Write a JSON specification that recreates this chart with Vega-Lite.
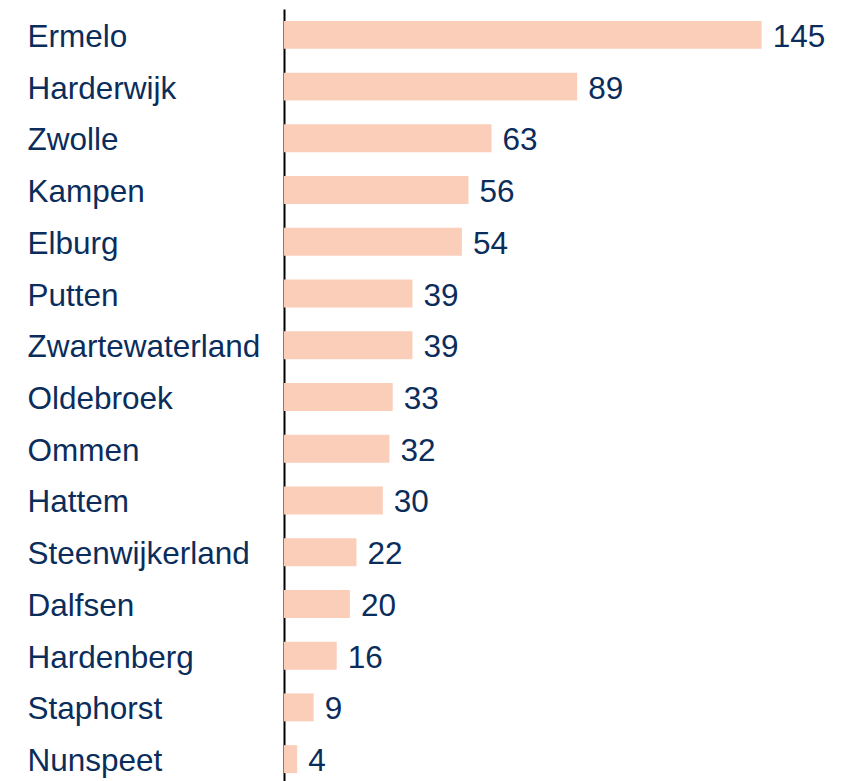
{
  "$schema": "https://vega.github.io/schema/vega-lite/v6.json",
  "width": 560,
  "height": 776,
  "autosize": {"type": "none"},
  "padding": {"left": 284, "top": 9, "right": 2, "bottom": 0},
  "background": "white",
  "config": {"view": {"stroke": null}, "font": "Liberation Sans"},
  "data": {"values": [
    {"gemeente": "Ermelo", "aantal": 145},
    {"gemeente": "Harderwijk", "aantal": 89},
    {"gemeente": "Zwolle", "aantal": 63},
    {"gemeente": "Kampen", "aantal": 56},
    {"gemeente": "Elburg", "aantal": 54},
    {"gemeente": "Putten", "aantal": 39},
    {"gemeente": "Zwartewaterland", "aantal": 39},
    {"gemeente": "Oldebroek", "aantal": 33},
    {"gemeente": "Ommen", "aantal": 32},
    {"gemeente": "Hattem", "aantal": 30},
    {"gemeente": "Steenwijkerland", "aantal": 22},
    {"gemeente": "Dalfsen", "aantal": 20},
    {"gemeente": "Hardenberg", "aantal": 16},
    {"gemeente": "Staphorst", "aantal": 9},
    {"gemeente": "Nunspeet", "aantal": 4}
  ]},
  "encoding": {
    "y": {"field": "gemeente", "type": "nominal", "sort": null,
      "scale": {"paddingInner": 0.46, "paddingOuter": 0.23},
      "axis": {"title": null, "ticks": false, "labelAlign": "left", "labelPadding": 257, "labelOffset": 3,
        "labelFont": "Liberation Sans", "labelFontSize": 31.5, "labelColor": "#0B2D5B",
        "domainColor": "#000000", "domainWidth": 2, "labelLimit": 300}},
    "x": {"field": "aantal", "type": "quantitative", "scale": {"domain": [0, 170]}, "axis": null}
  },
  "layer": [
    {"mark": {"type": "bar", "color": "#FBCEBA"}},
    {"mark": {"type": "text", "align": "left", "baseline": "middle", "dx": 11, "dy": 3,
      "font": "Liberation Sans", "fontSize": 31.5, "color": "#0B2D5B"},
     "encoding": {"text": {"field": "aantal", "type": "quantitative"}}}
  ]
}
